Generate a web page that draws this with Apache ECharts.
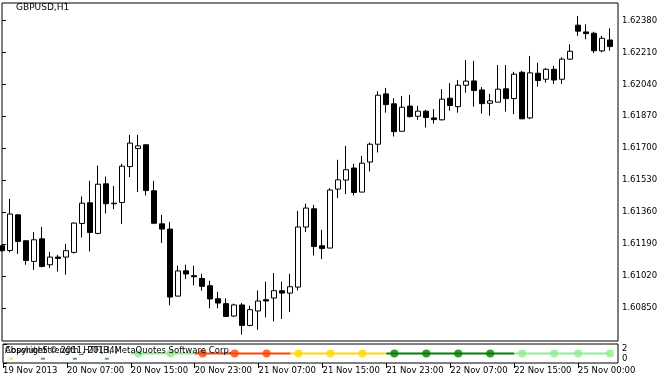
<!DOCTYPE html>
<html>
<head>
<meta charset="utf-8">
<script src="https://cdn.jsdelivr.net/npm/echarts@6/dist/echarts.min.js"></script>
<style>
  html, body { margin: 0; padding: 0; background: #fff; }
  #chart { width: 667px; height: 380px; }
</style>
</head>
<body>
<div id="chart"></div>
<script>
const SYMBOL_TITLE = 'GBPUSD,H1'
const INDICATOR_NAME = 'AbsoluteStrength_HTF(H4)'
const COPYRIGHT = 'Copyright © 2011, 2013, MetaQuotes Software Corp.'

// hourly bars, index 0 = 19 Nov 2013 23:00
const labelBars = [0, 8, 16, 24, 32, 40, 48, 56, 64, 72]
const timeLabels = ['19 Nov 2013', '20 Nov 07:00', '20 Nov 15:00', '20 Nov 23:00', '21 Nov 07:00',
  '21 Nov 15:00', '21 Nov 23:00', '22 Nov 07:00', '22 Nov 15:00', '25 Nov 00:00']

const opens = [1.61180, 1.61155, 1.61345, 1.61207, 1.61097, 1.61217, 1.61079, 1.61120, 1.61120, 1.61145,
  1.61299, 1.61409, 1.61246, 1.61510, 1.61407, 1.61411, 1.61602, 1.61698, 1.61718, 1.61473,
  1.61297, 1.61269, 1.60912, 1.61047, 1.61021, 1.61006, 1.60967, 1.60898, 1.60872, 1.60806,
  1.60865, 1.60756, 1.60833, 1.60893, 1.60902, 1.60941, 1.60928, 1.60960, 1.61280, 1.61377,
  1.61180, 1.61168, 1.61482, 1.61530, 1.61594, 1.61466, 1.61626, 1.61721, 1.61989, 1.61936,
  1.61790, 1.61924, 1.61870, 1.61897, 1.61861, 1.61851, 1.61966, 1.61921, 1.62035, 1.62058,
  1.62010, 1.61939, 1.61945, 1.62016, 1.61964, 1.62104, 1.61861, 1.62099, 1.62067, 1.62120,
  1.62067, 1.62174, 1.62355, 1.62319, 1.62312, 1.62218, 1.62276]
const closes = [1.61154, 1.61349, 1.61203, 1.61102, 1.61212, 1.61070, 1.61120, 1.61113, 1.61154, 1.61301,
  1.61407, 1.61251, 1.61508, 1.61404, 1.61404, 1.61604, 1.61727, 1.61712, 1.61474, 1.61300,
  1.61269, 1.60907, 1.61046, 1.61030, 1.61015, 1.60964, 1.60897, 1.60875, 1.60804, 1.60865,
  1.60756, 1.60840, 1.60886, 1.60886, 1.60941, 1.60928, 1.60962, 1.61280, 1.61381, 1.61176,
  1.61166, 1.61477, 1.61531, 1.61585, 1.61464, 1.61620, 1.61721, 1.61982, 1.61932, 1.61788,
  1.61918, 1.61868, 1.61897, 1.61863, 1.61852, 1.61961, 1.61927, 1.62035, 1.62057, 1.62007,
  1.61937, 1.61952, 1.62014, 1.61964, 1.62094, 1.61856, 1.62101, 1.62060, 1.62120, 1.62063,
  1.62174, 1.62216, 1.62323, 1.62310, 1.62219, 1.62285, 1.62241]
const lows = [1.61148, 1.61145, 1.61136, 1.61079, 1.61052, 1.61065, 1.61062, 1.61043, 1.61026, 1.61139,
  1.61224, 1.61150, 1.61242, 1.61352, 1.61375, 1.61296, 1.61546, 1.61466, 1.61448, 1.61300,
  1.61195, 1.60863, 1.60912, 1.61003, 1.60969, 1.60941, 1.60847, 1.60847, 1.60801, 1.60801,
  1.60707, 1.60751, 1.60733, 1.60799, 1.60777, 1.60790, 1.60827, 1.60942, 1.61253, 1.61128,
  1.61109, 1.61168, 1.61434, 1.61455, 1.61448, 1.61466, 1.61576, 1.61677, 1.61889, 1.61762,
  1.61790, 1.61863, 1.61851, 1.61810, 1.61831, 1.61847, 1.61900, 1.61889, 1.61996, 1.61921,
  1.61884, 1.61873, 1.61945, 1.61895, 1.61881, 1.61856, 1.61856, 1.62028, 1.62049, 1.62042,
  1.62042, 1.62170, 1.62298, 1.62280, 1.62206, 1.62211, 1.62219]
const highs = [1.61185, 1.61430, 1.61345, 1.61207, 1.61253, 1.61280, 1.61148, 1.61132, 1.61191, 1.61304,
  1.61443, 1.61526, 1.61607, 1.61549, 1.61499, 1.61617, 1.61771, 1.61771, 1.61718, 1.61526,
  1.61345, 1.61306, 1.61074, 1.61079, 1.61074, 1.61031, 1.60994, 1.60935, 1.60900, 1.60872,
  1.60875, 1.60861, 1.60942, 1.60989, 1.61035, 1.60989, 1.61031, 1.61366, 1.61404, 1.61398,
  1.61265, 1.61487, 1.61638, 1.61712, 1.61617, 1.61659, 1.61730, 1.62003, 1.62021, 1.61966,
  1.61978, 1.61984, 1.61925, 1.61904, 1.61908, 1.62014, 1.62046, 1.62063, 1.62170, 1.62165,
  1.62025, 1.61989, 1.62143, 1.62143, 1.62106, 1.62111, 1.62191, 1.62155, 1.62126, 1.62138,
  1.62184, 1.62253, 1.62404, 1.62360, 1.62320, 1.62298, 1.62338]

const priceTicks = [1.60850, 1.61020, 1.61190, 1.61360, 1.61530, 1.61700, 1.61870, 1.62040, 1.62210, 1.62380]

// indicator sub-window
const trendColors = ['#90ee90', '#ff4500', '#ffd700', '#008000']
const trendFrom = [16, 24, 36, 48, 64]
const trendTo = [24, 36, 48, 64, 76]
const trendState = [0, 1, 2, 3, 0]
const trendLevel = 1
const dotBars = [17, 21, 25, 29, 33, 37, 41, 45, 49, 53, 57, 61, 65, 69, 72, 76]
const dotState = [0, 0, 1, 1, 1, 2, 2, 2, 3, 3, 3, 3, 0, 0, 0, 0]
const markBars = [1, 5, 9, 13]
const markColors = ['#ffd700', '#2e8b57', '#2e8b57', '#2e8b57']
const markLevel = 0.45

const FONT = 'DejaVu Sans'
const chart = echarts.init(document.getElementById('chart'))

const xCommon = {
  type: 'value', min: 0, max: 77,
  splitLine: { show: false }
}

const trendSeries = trendFrom.map((from, i) => ({
  type: 'line', xAxisIndex: 1, yAxisIndex: 1,
  symbol: 'none', silent: true,
  lineStyle: { color: trendColors[trendState[i]], width: 2 },
  data: [[from, trendLevel], [trendTo[i], trendLevel]],
  z: 3
}))

chart.setOption({
  animation: false,
  backgroundColor: '#fff',
  title: [
    { text: SYMBOL_TITLE, left: 16, top: 3, padding: 0,
      textStyle: { fontFamily: FONT, fontSize: 9, fontWeight: 'normal', color: '#000' } },
    { text: INDICATOR_NAME, left: 5, top: 346, padding: 0, z: 10,
      textStyle: { fontFamily: FONT, fontSize: 8.5, fontWeight: 'normal', color: '#000' } },
    { text: COPYRIGHT, left: 5, top: 346, padding: 0, z: 10,
      textStyle: { fontFamily: FONT, fontSize: 8.5, fontWeight: 'normal', color: '#000' } }
  ],
  grid: [
    { left: 2, right: 49, top: 3, height: 338, show: true, borderColor: '#000', borderWidth: 1, backgroundColor: 'transparent' },
    { left: 2, right: 49, top: 344, height: 19, show: true, borderColor: '#000', borderWidth: 1, backgroundColor: 'transparent' }
  ],
  xAxis: [
    Object.assign({ gridIndex: 0, axisLine: { show: false }, axisTick: { show: false }, axisLabel: { show: false } }, xCommon),
    Object.assign({
      gridIndex: 1, position: 'bottom',
      axisLine: { show: false },
      axisTick: { show: true, length: 5, lineStyle: { color: '#000' }, customValues: labelBars },
      axisLabel: {
        show: true, customValues: labelBars, align: 'left', margin: 3,
        showMinLabel: true,
        fontFamily: FONT, fontSize: 8.5, color: '#000',
        formatter: v => timeLabels[labelBars.indexOf(Math.round(v))] || ''
      }
    }, xCommon)
  ],
  yAxis: [
    {
      gridIndex: 0, type: 'value', position: 'right', min: 1.60673, max: 1.62473, scale: true,
      splitLine: { show: false },
      axisLine: { show: false },
      axisTick: { show: true, length: 4, lineStyle: { color: '#000' }, customValues: priceTicks },
      axisLabel: {
        customValues: priceTicks, margin: 4,
        fontFamily: FONT, fontSize: 8.5, color: '#000',
        formatter: v => v.toFixed(5)
      }
    },
    {
      gridIndex: 1, type: 'value', position: 'right', min: 0, max: 2,
      splitLine: { show: false },
      axisLine: { show: false },
      axisTick: { show: true, length: 4, lineStyle: { color: '#000' }, customValues: [0, 2] },
      axisLabel: {
        customValues: [0, 2], margin: 4,
        fontFamily: FONT, fontSize: 8.5, color: '#000',
        verticalAlignMaxLabel: 'top', verticalAlignMinLabel: 'bottom'
      }
    }
  ],
  series: [
    {
      type: 'candlestick', xAxisIndex: 0, yAxisIndex: 0,
      barWidth: 5,
      encode: { x: 0, y: [1, 2, 3, 4] },
      itemStyle: { color: '#fff', color0: '#000', borderColor: '#000', borderColor0: '#000', borderWidth: 1 },
      data: opens.map((o, i) => [i, o, closes[i], lows[i], highs[i]])
    },
    ...trendSeries,
    {
      type: 'scatter', xAxisIndex: 1, yAxisIndex: 1,
      symbol: 'circle', symbolSize: 8, silent: true, z: 4,
      data: dotBars.map((b, i) => ({ value: [b, trendLevel], itemStyle: { color: trendColors[dotState[i]] } }))
    },
    {
      type: 'scatter', xAxisIndex: 1, yAxisIndex: 1,
      symbol: 'rect', symbolSize: [4, 2], silent: true, z: 4,
      data: markBars.map((b, i) => ({ value: [b, markLevel], itemStyle: { color: markColors[i] } }))
    }
  ]
})
</script>
</body>
</html>
